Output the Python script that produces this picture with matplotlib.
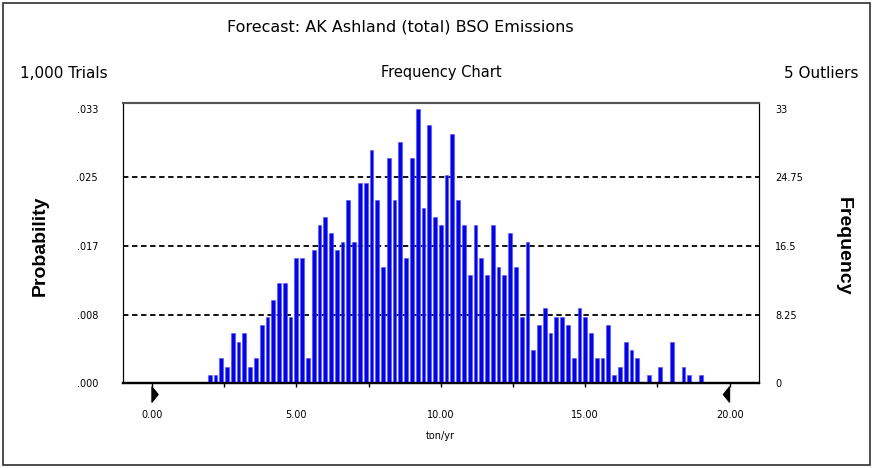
import numpy as np
import matplotlib.pyplot as plt
from matplotlib.patches import Polygon, Rectangle

# bin centres (ton/yr) and counts, 0.2 wide cells
bin_start = 2.0
bin_width = 0.2
counts = [1, 1, 3, 2, 6, 5, 6, 2, 3, 7,
          8, 10, 12, 12, 8, 15, 15, 3, 16, 19,
          20, 18, 16, 17, 22, 17, 24, 24, 28, 22,
          14, 27, 22, 29, 15, 27, 33, 21, 31, 20,
          19, 25, 30, 22, 19, 13, 19, 15, 13, 19,
          14, 13, 18, 14, 8, 17, 4, 7, 9, 6,
          8, 8, 7, 3, 9, 8, 6, 3, 3, 7,
          1, 2, 5, 4, 3, 0, 1, 0, 2, 0,
          5, 0, 2, 1, 0, 1]
centres = bin_start + bin_width * np.arange(len(counts))

trials = 1000
outliers = 5
freq_ticks = [0, 8.25, 16.5, 24.75, 33]
freq_labels = ['0', '8.25', '16.5', '24.75', '33']
prob_labels = ['.000', '.008', '.017', '.025', '.033']
x_ticks = np.arange(0, 20.01, 2.5)
display_range = (0.0, 20.0)

plt.rcParams['font.family'] = ['DejaVu Sans']

fig = plt.figure(figsize=(8.73, 4.68), dpi=100)
fig.patch.set_facecolor('white')
fig.patches.append(Rectangle((0.004, 0.006), 0.992, 0.988, transform=fig.transFigure,
                             fill=False, edgecolor='#303030', linewidth=1.2))

ax = fig.add_axes([123 / 873, 1 - 383.3 / 468, 635.5 / 873, 280.6 / 468])
ax.bar(centres, counts, width=0.13, color='#0000ff', edgecolor='#5050ff',
       linewidth=0.4, zorder=3)
for y in freq_ticks[1:-1]:
    ax.axhline(y, color='black', linestyle=(0, (3, 2)), linewidth=1.3, zorder=2)

ax.set_xlim(-1.0, 21.0)
ax.set_ylim(0, 33.7)

ax.set_xticks(x_ticks)
ax.set_xticklabels([f'{v:.2f}' if v % 5 == 0 else '' for v in x_ticks], fontsize=7)
ax.tick_params(axis='x', direction='out', length=3, width=1, pad=16)
ax.set_yticks(freq_ticks)
ax.set_yticklabels(prob_labels, fontsize=7)
ax.tick_params(axis='y', length=0, pad=18)

ax2 = ax.twinx()
ax2.set_ylim(ax.get_ylim())
ax2.set_yticks(freq_ticks)
ax2.set_yticklabels(freq_labels, fontsize=7)
ax2.tick_params(axis='y', length=0, pad=12)

for a in (ax, ax2):
    a.spines['bottom'].set_linewidth(1.6)
    a.spines['left'].set_linewidth(0.8)
    a.spines['right'].set_linewidth(0.8)
    a.spines['top'].set_linewidth(1.5)
    a.spines['top'].set_color('#555555')

# certainty grabbers at the ends of the display range
xt = ax.get_xaxis_transform()
gw = 0.22
for x0, d in ((display_range[0], gw), (display_range[1], -gw)):
    tri = Polygon([(x0, -0.012), (x0 + d, -0.04), (x0, -0.068)], closed=True,
                  transform=xt, clip_on=False, facecolor='black', edgecolor='black',
                  linewidth=0.8)
    ax.add_patch(tri)

ax.set_xlabel('ton/yr', fontsize=7, labelpad=8)

fig.text(400 / 873, 1 - 27 / 468, 'Forecast: AK Ashland (total) BSO Emissions',
         ha='center', va='center', fontsize=11.5)
fig.text(20 / 873, 1 - 73 / 468, f'{trials:,} Trials', ha='left', va='center', fontsize=11)
fig.text(441 / 873, 1 - 73 / 468, 'Frequency Chart', ha='center', va='center', fontsize=10.5)
fig.text(858 / 873, 1 - 73 / 468, f'{outliers} Outliers', ha='right', va='center', fontsize=11)
fig.text(40 / 873, 1 - 246 / 468, 'Probability', rotation=90, ha='center', va='center',
         fontsize=14, fontweight='bold', family='Liberation Sans')
fig.text(843 / 873, 1 - 246 / 468, 'Frequency', rotation=270, ha='center', va='center',
         fontsize=14, fontweight='bold', family='Liberation Sans')

fig.savefig('out.png', dpi=100)
